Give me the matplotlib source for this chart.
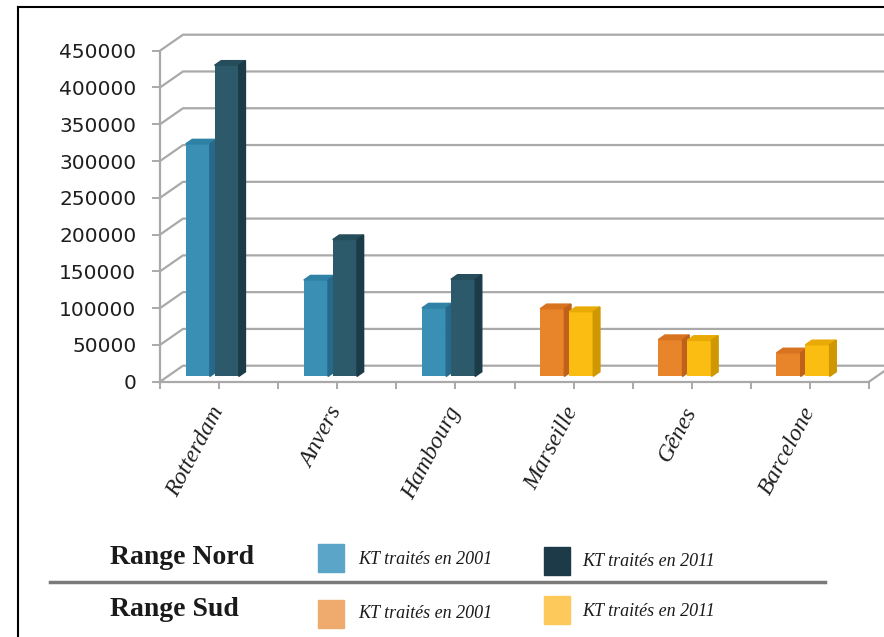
import numpy as np
import matplotlib
matplotlib.use("Agg")
import matplotlib.pyplot as plt
from matplotlib.patches import Polygon, Rectangle
from matplotlib.lines import Line2D

# ports et milliers de tonnes traitées
ports = ["Rotterdam", "Anvers", "Hambourg", "Marseille", "Gênes", "Barcelone"]
kt_2001 = [316000, 131000, 93000, 92000, 50000, 32000]
kt_2011 = [423000, 186000, 132000, 88000, 49000, 43000]
nord = [True, True, True, False, False, False]
yticks = [0, 50000, 100000, 150000, 200000, 250000, 300000, 350000, 400000, 450000]

# couleurs (face avant, dessus, côté)
c_nord_01 = ("#3a8fb4", "#2f82a6", "#27698a")
c_nord_11 = ("#2c5a6a", "#264d5c", "#1b3b48")
c_sud_01 = ("#e8852a", "#d8731f", "#bf611a")
c_sud_11 = ("#fbbd12", "#e9aa05", "#cf9800")

W, H = 884, 637
fig = plt.figure(figsize=(W / 100, H / 100), dpi=100)
# axe avant : x de 160 à 869 px, y de 381.7 (0) à 50.7 (450000)
ax = fig.add_axes([160 / W, (H - 381.7) / H, (869 - 160) / W, (381.7 - 50.7) / H])
ax.set_xlim(-0.5, 5.5)
ax.set_ylim(0, 450000)

# profondeur du graphique 3D en unités de données
px_x = (869 - 160) / 6
px_y = 331 / 450000
ddx = 23 / px_x
ddy = 16 / px_y

grid_col = "#a9a9a9"
for v in yticks:
    ax.plot([-0.5, -0.5 + ddx, 5.5 + ddx], [v, v + ddy, v + ddy],
            color=grid_col, lw=1.6, clip_on=False, zorder=1)
ax.plot([5.5, 5.5 + ddx], [0, ddy], color=grid_col, lw=1.6, clip_on=False, zorder=1)

# barres avec faux relief
w = 0.205
d0, d1 = 0.33, 0.62
x = np.arange(len(ports))


def bar3d(xc, val, cols):
    x0 = xc - w / 2 + d0 * ddx
    x1 = xc + w / 2 + d0 * ddx
    y0 = d0 * ddy
    ex, ey = (d1 - d0) * ddx, (d1 - d0) * ddy
    ax.bar(x0, val, width=w, bottom=y0, align="edge", color=cols[0], zorder=3)
    ax.add_patch(Polygon([(x0, val + y0), (x0 + ex, val + y0 + ey),
                          (x1 + ex, val + y0 + ey), (x1, val + y0)],
                         closed=True, color=cols[1], zorder=3))
    ax.add_patch(Polygon([(x1, y0), (x1 + ex, y0 + ey),
                          (x1 + ex, val + y0 + ey), (x1, val + y0)],
                         closed=True, color=cols[2], zorder=3))


for i in range(len(ports)):
    cols01 = c_nord_01 if nord[i] else c_sud_01
    cols11 = c_nord_11 if nord[i] else c_sud_11
    bar3d(x[i] - 0.245, kt_2001[i], cols01)
    bar3d(x[i] + 0.0, kt_2011[i], cols11)

# axes
for s in ["top", "right"]:
    ax.spines[s].set_visible(False)
for s in ["left", "bottom"]:
    ax.spines[s].set_color(grid_col)
    ax.spines[s].set_linewidth(1.6)
ax.set_yticks(yticks)
ax.set_yticklabels([str(v) for v in yticks])
ax.tick_params(axis="y", length=6, width=1.4, color=grid_col, pad=11,
               labelsize=14.5, labelcolor="#1e1e1e")
ax.set_xticks(x)
ax.set_xticks(np.arange(-0.5, 6, 1.0), minor=True)
ax.set_xticklabels(ports, family="Liberation Serif", style="italic", fontsize=17,
                   rotation=62, ha="right", va="center", rotation_mode="anchor",
                   color="#1e1e1e")
ax.tick_params(axis="x", which="both", length=5, width=1.4, color=grid_col, pad=14)
ax.patch.set_visible(False)

# cadre
fig.add_artist(Line2D([18 / W, 18 / W], [0, 1 - 7 / H], transform=fig.transFigure,
                      color="black", lw=1.5))
fig.add_artist(Line2D([18 / W, 1], [1 - 7 / H, 1 - 7 / H], transform=fig.transFigure,
                      color="black", lw=1.5))

# légende
def fx(px):
    return px / W


def fy(py):
    return 1 - py / H


serif = "Liberation Serif"
fig.text(fx(110), fy(558), "Range Nord", family=serif, weight="bold", fontsize=20,
         va="center", ha="left", color="#1a1a1a")
fig.text(fx(110), fy(610), "Range Sud", family=serif, weight="bold", fontsize=20,
         va="center", ha="left", color="#1a1a1a")
fig.add_artist(Line2D([fx(50), fx(825)], [fy(582), fy(582)], transform=fig.transFigure,
                      color="#7a7a7a", lw=2.5))
legend_items = [
    (318, 544, "#5aa5c8", 358, 560),
    (544, 547, "#1d3a48", 582, 561),
    (318, 600, "#efaa6e", 358, 613),
    (544, 596, "#fdc95a", 582, 611),
]
labels = ["KT traités en 2001", "KT traités en 2011", "KT traités en 2001", "KT traités en 2011"]
for (rx, ry, col, tx, ty), lab in zip(legend_items, labels):
    fig.add_artist(Rectangle((fx(rx), fy(ry + 28)), 26 / W, 28 / H,
                             transform=fig.transFigure, color=col))
    fig.text(fx(tx), fy(ty), lab, family=serif, style="italic", fontsize=13,
             va="center", ha="left", color="#1a1a1a")

fig.savefig("out.png", dpi=100)
